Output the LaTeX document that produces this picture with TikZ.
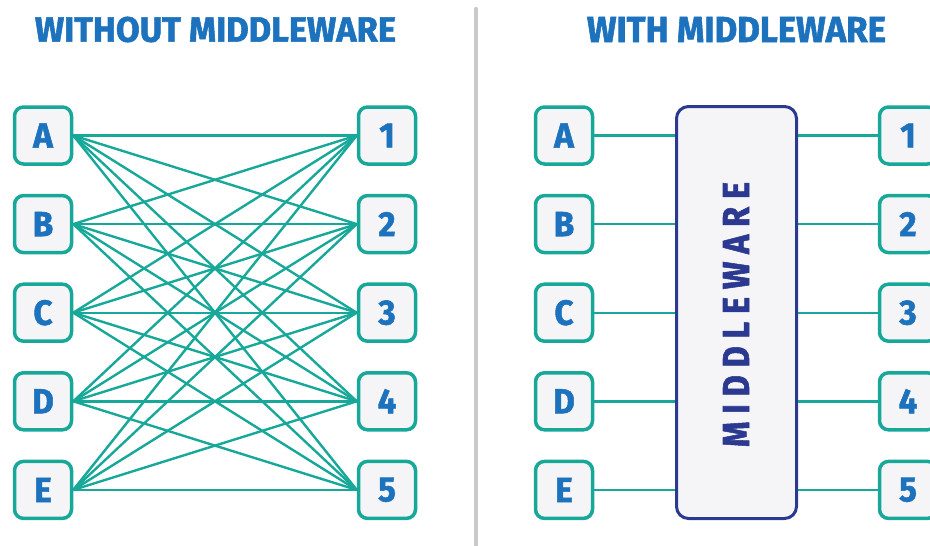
\documentclass[tikz,border=0pt]{standalone}
\usepackage{fontspec}
\setmainfont{Fira Sans}[BoldFeatures={FakeBold=1.6}]
\usepackage{graphicx}

\definecolor{teal}{HTML}{17A899}
\definecolor{labelblue}{HTML}{1D72BD}
\definecolor{navy}{HTML}{2B3990}
\definecolor{boxfill}{HTML}{F5F5F7}
\definecolor{divider}{HTML}{C9C9C9}

% letter inside a small box
\newcommand{\boxlabel}[1]{\scalebox{0.95}[1]{\fontsize{35}{35}\selectfont\bfseries #1}}
% widely spaced vertical caption
\newcommand{\spaced}{\hspace{0.24em}}

\tikzset{
  nbox/.style={draw=teal, line width=3.5pt, fill=boxfill, rounded corners=9pt,
    minimum width=57pt, minimum height=57pt, inner sep=0pt,
    text=labelblue},
  link/.style={draw=teal, line width=2.4pt},
  title/.style={inner sep=0pt, text=labelblue},
  mwbox/.style={draw=navy, line width=3pt, fill=boxfill, rounded corners=12pt,
    minimum width=120pt, minimum height=412pt, inner sep=0pt},
}

\begin{document}
\begin{tikzpicture}[x=1pt, y=-1pt]
\useasboundingbox (0,0) rectangle (930,546);
\clip (0,0) rectangle (930,546);

% titles
\node[title] (t1) at (215.5,29.5) {\resizebox{361pt}{25pt}{\bfseries WITHOUT MIDDLEWARE}};
\node[title] (t2) at (736.5,29.5) {\resizebox{299pt}{25pt}{\bfseries WITH MIDDLEWARE}};

% divider
\draw[divider, line width=4.5pt, line cap=round] (476,9) coordinate (d1) -- (476,560) coordinate (d2);

% left panel: every source wired to every target
\foreach \l [count=\i] in {A,B,C,D,E} {
  \node[nbox] (la\i) at (43,135.5+88.6*\i-88.6) {\boxlabel{\l}};
  \node[nbox] (ra\i) at (387,135.5+88.6*\i-88.6) {\boxlabel{\i}};
}
\foreach \i in {1,...,5} {
  \foreach \j in {1,...,5} {
    \draw[link] (la\i.east) -- (ra\j.west);
  }
}

% right panel: everything goes through the middleware
\node[mwbox] (mw) at (736.5,312.5) {};
\node[rotate=90, inner sep=0pt, text=navy] (mwt) at (736,314.5)
  {\resizebox{265pt}{26pt}{\bfseries M\spaced I\spaced D\spaced D\spaced L\spaced E\spaced W\spaced A\spaced R\spaced E}};
\foreach \l [count=\i] in {A,B,C,D,E} {
  \node[nbox] (lb\i) at (564,135.5+88.6*\i-88.6) {\boxlabel{\l}};
  \node[nbox] (rb\i) at (908,135.5+88.6*\i-88.6) {\boxlabel{\i}};
}
\foreach \i in {1,...,5} {
  \draw[link] (lb\i.east) -- (mw.west |- lb\i);
  \draw[link] (mw.east |- rb\i) -- (rb\i.west);
}
\end{tikzpicture}
\end{document}
